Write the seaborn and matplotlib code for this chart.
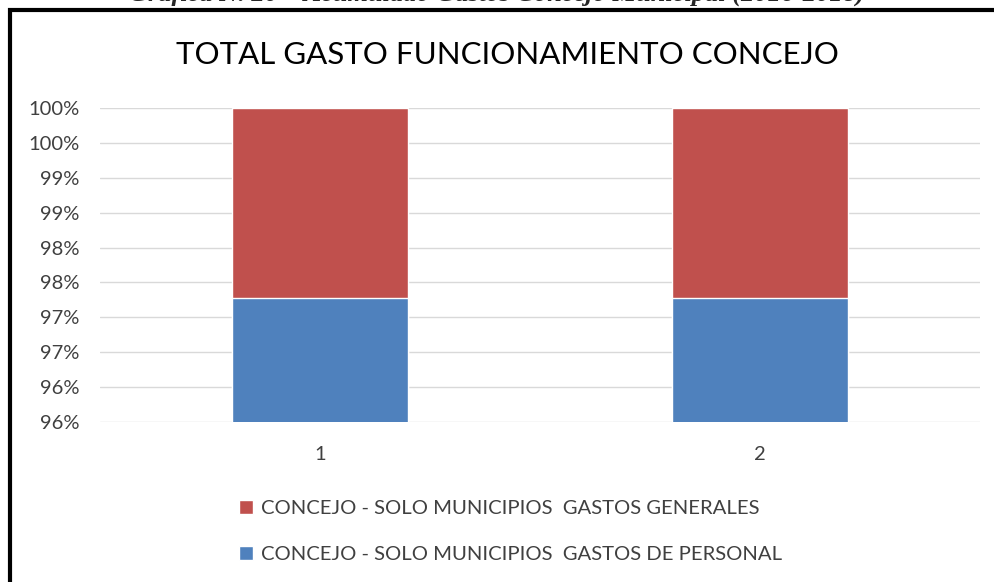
import numpy as np
import pandas as pd
import matplotlib
matplotlib.use("Agg")
import matplotlib.pyplot as plt
import seaborn as sns
from matplotlib.patches import Patch, Rectangle

# data (percent of total funcionamiento)
categorias = ["1", "2"]
gastos_personal = [97.28, 97.28]
gastos_generales = [2.72, 2.72]
ytick_vals = [95.5, 96.0, 96.5, 97.0, 97.5, 98.0, 98.5, 99.0, 99.5, 100.0]
ytick_labels = ["96%", "96%", "97%", "97%", "98%", "98%", "99%", "99%", "100%", "100%"]

df = pd.DataFrame({
    "cat": categorias,
    "personal": gastos_personal,
    "generales": gastos_generales,
})
df["total"] = df["personal"] + df["generales"]

sns.set_style("white")
plt.rcParams["font.family"] = ["Lato", "DejaVu Sans"]

rojo = "#C0504D"
azul = "#4F81BD"

fig = plt.figure(figsize=(9.94, 5.82), dpi=100)
ax = fig.add_axes([100 / 994, 1 - 422 / 582, 880 / 994, 314 / 582])

# stacked bars: total in red, personal in blue over it
sns.barplot(data=df, x="cat", y="total", color=rojo, width=0.4, ax=ax,
            saturation=1, zorder=2)
sns.barplot(data=df, x="cat", y="personal", color=azul, width=0.4, ax=ax,
            saturation=1, zorder=3)

ax.set_ylim(95.5, 100)
ax.set_yticks(ytick_vals)
ax.set_yticklabels(ytick_labels)
ax.yaxis.grid(True, color="#d9d9d9", linewidth=1, zorder=0)
ax.set_axisbelow(True)
for s in ax.spines.values():
    s.set_visible(False)
ax.tick_params(axis="y", length=0, pad=15, labelsize=14.5, labelcolor="#404040")
ax.tick_params(axis="x", length=0, pad=17, labelsize=14.5, labelcolor="#404040")
ax.set_xlabel("")
ax.set_ylabel("")

fig.text(507 / 994, 1 - 55 / 582, "TOTAL GASTO FUNCIONAMIENTO CONCEJO",
         ha="center", va="center", fontsize=22.5, color="#000000")

handles = [Patch(facecolor=rojo, label="CONCEJO - SOLO MUNICIPIOS  GASTOS GENERALES"),
           Patch(facecolor=azul, label="CONCEJO - SOLO MUNICIPIOS  GASTOS DE PERSONAL")]
fig.legend(handles=handles, loc="upper left", bbox_to_anchor=(221 / 994, 1 - 482 / 582),
           frameon=False, fontsize=14.6, labelcolor="#404040", handlelength=0.7,
           handleheight=0.7, handletextpad=0.35, labelspacing=1.4)

# caption cut at top of the page
fig.text(497 / 994, 1 + 6 / 582,
         "Gráfica N. 20 – Acumulado Gastos Concejo Municipal (2016-2018)",
         ha="center", va="center", fontsize=19, family="Liberation Serif",
         style="italic", weight="bold")

# black frame around the chart
fig.patches.append(Rectangle((10 / 994, -0.05), 1.0, 1 - 10 / 582 + 0.05,
                             transform=fig.transFigure, fill=False,
                             edgecolor="black", linewidth=3))

fig.savefig("out.png", dpi=100)
